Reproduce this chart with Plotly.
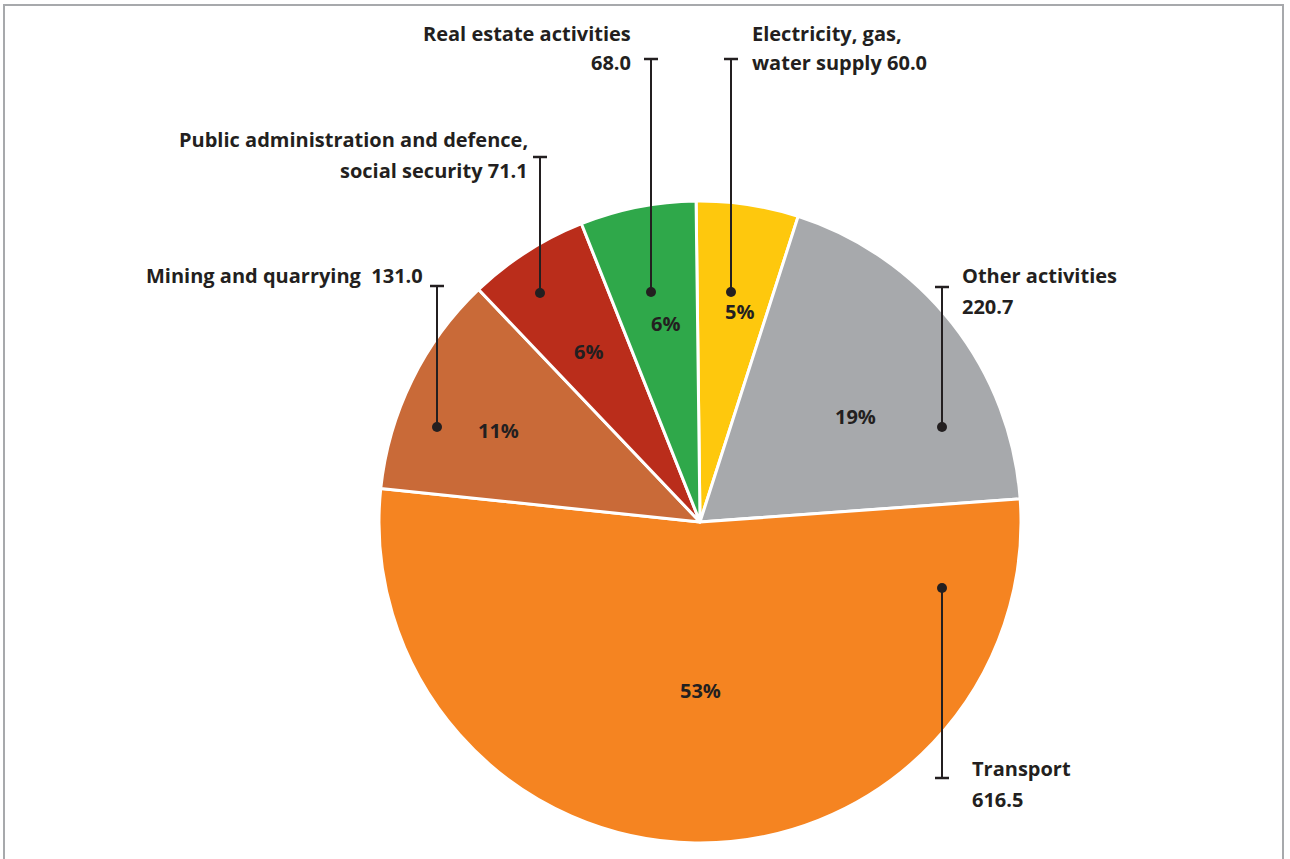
import plotly.graph_objects as go

# ---------------- data ----------------
categories = ["Electricity, gas, water supply", "Other activities", "Transport",
              "Mining and quarrying", "Public administration and defence, social security",
              "Real estate activities"]
values = [60.0, 220.7, 616.5, 131.0, 71.1, 68.0]
colors = ["#FEC80D", "#A7A9AC", "#F58421", "#C96A38", "#BA2D1B", "#2FA84A"]

# label line splits (text content per category)
label_lines = [
    ["Electricity, gas,", "water supply {v}"],
    ["Other activities", "{v}"],
    ["Transport", "{v}"],
    ["Mining and quarrying  {v}"],
    ["Public administration and defence,", "social security {v}"],
    ["Real estate activities", "{v}"],
]

# ---------------- layout geometry (pixels) ----------------
W, H = 1290, 859
CX, CY, R = 700, 522, 321
TXT = "#231F20"
FONT = "Open Sans"


def px(x):
    return x / W


def py(y):
    return 1 - y / H


# percentage label centres
pct_pos = [(739, 311), (855, 416), (700, 690), (498, 430), (588, 351), (665, 324)]
# leader: (line x, dot y, cap y, text anchor x, xanchor, first line y, line gap)
leaders = [
    (731, 292, 59, 750, "left", 33, 29),
    (942, 427, 287, 960, "left", 276, 30),
    (942, 588, 778, 970, "left", 768, 31),
    (437, 427, 286, 425, "right", 276, 30),
    (540, 293, 157, 530, "right", 139, 31),
    (651, 292, 59, 633, "right", 33, 29),
]

total = sum(values)

fig = go.Figure(go.Pie(
    labels=categories,
    values=values,
    sort=False,
    direction="clockwise",
    rotation=-0.7,
    marker=dict(colors=colors, line=dict(color="white", width=3)),
    textinfo="none",
    hoverinfo="label+value+percent",
    showlegend=False,
    domain=dict(x=[px(CX - R), px(CX + R)], y=[py(CY + R), py(CY - R)]),
))

annotations = []
shapes = []

for i, (name, v) in enumerate(zip(categories, values)):
    pct = round(v / total * 100)
    x, y = pct_pos[i]
    annotations.append(dict(x=px(x), y=py(y), xref="paper", yref="paper",
                            text=f"<b>{pct}%</b>", showarrow=False,
                            xanchor="center", yanchor="middle",
                            font=dict(family=FONT, size=20, color=TXT)))
    lx, dy, cy, tx, xa, ty, gap = leaders[i]
    shapes.append(dict(type="line", xref="paper", yref="paper",
                       x0=px(lx), x1=px(lx), y0=py(dy), y1=py(cy),
                       line=dict(color=TXT, width=2)))
    shapes.append(dict(type="line", xref="paper", yref="paper",
                       x0=px(lx - 7), x1=px(lx + 7), y0=py(cy), y1=py(cy),
                       line=dict(color=TXT, width=2.5)))
    shapes.append(dict(type="circle", xref="paper", yref="paper",
                       x0=px(lx - 5), x1=px(lx + 5), y0=py(dy - 5), y1=py(dy + 5),
                       fillcolor=TXT, line=dict(color=TXT, width=0)))
    for k, line in enumerate(label_lines[i]):
        annotations.append(dict(x=px(tx), y=py(ty + k * gap), xref="paper", yref="paper",
                                text="<b>" + line.format(v=f"{v:.1f}") + "</b>",
                                showarrow=False, xanchor=xa, yanchor="middle",
                                font=dict(family=FONT, size=20, color=TXT)))

# outer frame
shapes.append(dict(type="rect", xref="paper", yref="paper",
                   x0=px(4), x1=px(1283), y0=-0.05, y1=py(5),
                   line=dict(color="#A7A9AC", width=2), fillcolor="rgba(0,0,0,0)", layer="below"))

fig.update_layout(
    width=W, height=H,
    margin=dict(l=0, r=0, t=0, b=0),
    paper_bgcolor="white", plot_bgcolor="white",
    annotations=annotations, shapes=shapes,
)

fig.write_html("out.html")
